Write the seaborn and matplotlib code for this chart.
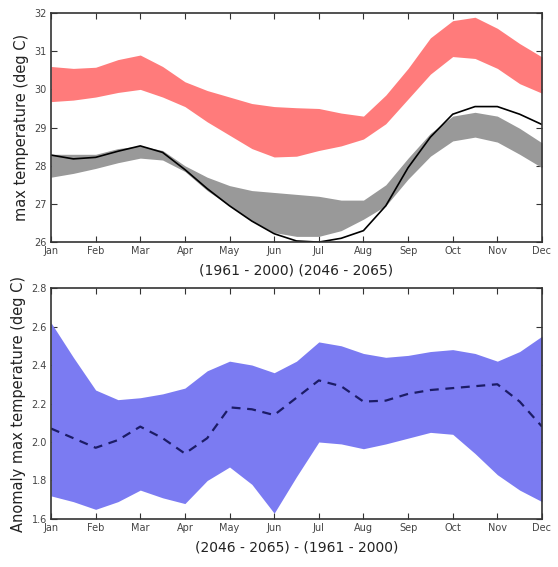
import numpy as np
import pandas as pd
import matplotlib
matplotlib.use("Agg")
import matplotlib.pyplot as plt
import seaborn as sns

months = ["Jan", "Feb", "Mar", "Apr", "May", "Jun", "Jul", "Aug", "Sep", "Oct", "Nov", "Dec"]
# half-month sample positions (0 = Jan, 11 = Dec)
t = np.arange(0, 11.01, 0.5)

# Top panel: future (2046-2065) model range
future_hi = [30.60, 30.55, 30.58, 30.78, 30.90, 30.60, 30.20, 29.97, 29.80, 29.63, 29.55, 29.52,
             29.50, 29.38, 29.30, 29.85, 30.55, 31.35, 31.80, 31.89, 31.60, 31.20, 30.85]
future_lo = [29.68, 29.72, 29.80, 29.92, 30.00, 29.80, 29.55, 29.15, 28.80, 28.45, 28.23, 28.25,
             28.40, 28.52, 28.70, 29.10, 29.75, 30.40, 30.86, 30.81, 30.55, 30.15, 29.90]
# Top panel: historical (1961-2000) model range
hist_hi = [28.30, 28.30, 28.30, 28.45, 28.52, 28.40, 28.00, 27.70, 27.48, 27.35, 27.30, 27.25,
           27.20, 27.10, 27.10, 27.50, 28.20, 28.85, 29.30, 29.40, 29.30, 28.98, 28.60]
hist_lo = [27.70, 27.80, 27.93, 28.08, 28.20, 28.15, 27.85, 27.35, 26.95, 26.55, 26.25, 26.15,
           26.15, 26.30, 26.60, 26.95, 27.65, 28.25, 28.65, 28.75, 28.62, 28.30, 27.95]
# Top panel: observed
observed = [28.28, 28.18, 28.22, 28.38, 28.52, 28.35, 27.90, 27.40, 26.95, 26.55, 26.22, 26.03,
            26.00, 26.10, 26.30, 26.95, 27.95, 28.75, 29.35, 29.55, 29.55, 29.35, 29.08]

# Bottom panel: anomaly range and mean
anom_hi = [2.62, 2.44, 2.27, 2.22, 2.23, 2.25, 2.28, 2.37, 2.42, 2.40, 2.36, 2.42,
           2.52, 2.50, 2.46, 2.44, 2.45, 2.47, 2.48, 2.46, 2.42, 2.47, 2.55]
anom_lo = [1.72, 1.69, 1.65, 1.69, 1.75, 1.71, 1.68, 1.80, 1.87, 1.78, 1.63, 1.82,
           2.00, 1.99, 1.965, 1.99, 2.02, 2.05, 2.04, 1.94, 1.83, 1.75, 1.69]
anom_mean = [2.07, 2.02, 1.97, 2.01, 2.08, 2.02, 1.94, 2.02, 2.18, 2.17, 2.14, 2.23,
             2.32, 2.29, 2.21, 2.215, 2.25, 2.27, 2.28, 2.29, 2.30, 2.21, 2.08]

top_yticks = [26, 27, 28, 29, 30, 31, 32]
bot_yticks = [1.6, 1.8, 2.0, 2.2, 2.4, 2.6, 2.8]

sns.set_style("ticks")
plt.rcParams["font.family"] = ["DejaVu Sans"]

fig = plt.figure(figsize=(5.58, 5.67), dpi=100)
ax1 = fig.add_axes([0.0914, 0.573, 0.8799, 0.404])
ax2 = fig.add_axes([0.0914, 0.0847, 0.8799, 0.4073])

df_top = pd.DataFrame({"t": t, "obs": observed})
df_bot = pd.DataFrame({"t": t, "mean": anom_mean})

ax1.fill_between(t, future_lo, future_hi, color="#ff7b7b", lw=0)
ax1.fill_between(t, hist_lo, hist_hi, color="#999999", lw=0)
sns.lineplot(data=df_top, x="t", y="obs", ax=ax1, color="black", lw=1.2)

ax2.fill_between(t, anom_lo, anom_hi, color="#7b7bf2", lw=0)
sns.lineplot(data=df_bot, x="t", y="mean", ax=ax2, color="#1c1c66", lw=1.6)
ax2.lines[-1].set_dashes([4, 3])

for ax, yt, ylab, xlab in [
    (ax1, top_yticks, "max temperature (deg C)", "(1961 - 2000) (2046 - 2065)"),
    (ax2, bot_yticks, "Anomaly max temperature (deg C)", "(2046 - 2065) - (1961 - 2000)"),
]:
    ax.set_xlim(0, 11)
    ax.set_ylim(yt[0], yt[-1])
    ax.set_xticks(range(12))
    ax.set_xticklabels(months)
    ax.set_yticks(yt)
    if yt[0] < 5:
        ax.set_yticklabels([f"{v:.1f}" for v in yt])
    ax.tick_params(direction="in", top=True, right=True, length=4, width=0.8,
                   labelsize=7, colors="#333333", labelcolor="#444444", pad=3)
    for s in ax.spines.values():
        s.set_linewidth(1.2)
        s.set_color("#333333")
    ax.set_xlabel(xlab, fontsize=10, color="#222222", labelpad=5)
    ax.set_ylabel(ylab, fontsize=10.5, color="#222222", labelpad=4)

fig.savefig("out.png", dpi=100)
